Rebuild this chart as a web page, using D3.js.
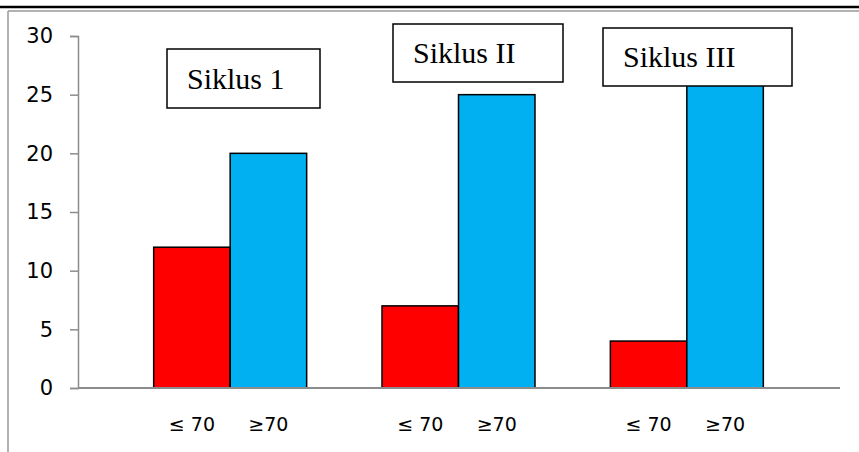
<!DOCTYPE html>
<html><head><meta charset="utf-8">
<script src="https://cdn.jsdelivr.net/npm/d3@7"></script>
<style>html,body{margin:0;padding:0;background:#fff;}svg{display:block;}</style>
</head><body>
<svg id="c" width="859" height="452"></svg>
<script>
const groups = ["Siklus 1", "Siklus II", "Siklus III"];
const subLabels = ["≤ 70", "≥70"];
const lowValues = [12, 7, 4];
const highValues = [20, 25, 28];
const yTicks = [0, 5, 10, 15, 20, 25, 30];

const svg = d3.select("#c");
const y = d3.scaleLinear().domain([0, 30]).range([388, 36]);
const x = d3.scaleBand().domain(groups).range([116, 801]).paddingInner(0.33).paddingOuter(0.165);
const xs = d3.scaleBand().domain(subLabels).range([0, x.bandwidth()]);

// frame lines
svg.append("line").attr("x1",0).attr("x2",859).attr("y1",7).attr("y2",7).attr("stroke","#000").attr("stroke-width",2.5);
svg.append("line").attr("x1",8).attr("x2",859).attr("y1",11).attr("y2",11).attr("stroke","#999").attr("stroke-width",1.5);
svg.append("line").attr("x1",8).attr("x2",8).attr("y1",11).attr("y2",452).attr("stroke","#999").attr("stroke-width",1.5);

// bars
const data = groups.map((g,i)=>({g, vals:[{k:subLabels[0],v:lowValues[i],c:"#ff0000"},{k:subLabels[1],v:highValues[i],c:"#00b0f0"}]}));
const gg = svg.selectAll("g.grp").data(data).join("g").attr("class","grp").attr("transform",d=>`translate(${x(d.g)},0)`);
gg.selectAll("rect").data(d=>d.vals).join("rect")
  .attr("x",d=>xs(d.k)).attr("width",xs.bandwidth())
  .attr("y",d=>y(d.v)).attr("height",d=>y(0)-y(d.v))
  .attr("fill",d=>d.c).attr("stroke","#000").attr("stroke-width",1.5);
gg.selectAll("text.xl").data(d=>d.vals).join("text").attr("class","xl")
  .attr("x",d=>xs(d.k)+xs.bandwidth()/2).attr("y",431)
  .attr("text-anchor","middle").attr("font-family","'DejaVu Sans', sans-serif").attr("font-size",19).attr("fill","#000")
  .text(d=>d.k);

// y axis
const yAxis = d3.axisLeft(y).tickValues(yTicks).tickSize(8).tickPadding(17);
const ya = svg.append("g").attr("transform","translate(78,0)").call(yAxis);
ya.attr("font-size",21).attr("font-family","'DejaVu Sans', sans-serif");
ya.select(".domain").attr("stroke","#8c8c8c").attr("stroke-width",1.5);
ya.selectAll(".tick line").attr("stroke","#8c8c8c").attr("stroke-width",1.5);
ya.selectAll(".tick text").attr("font-family","'DejaVu Sans', sans-serif").attr("font-size",21).attr("fill","#000");

// x axis line
svg.append("line").attr("x1",78).attr("x2",840).attr("y1",y(0)).attr("y2",y(0)).attr("stroke","#8c8c8c").attr("stroke-width",2);

// text boxes
const boxes = [
  {t:groups[0], x:167, y:49, w:153, h:59, tx:187, ty:89},
  {t:groups[1], x:393, y:24, w:170, h:58, tx:413, ty:63},
  {t:groups[2], x:603, y:28, w:189, h:58, tx:623, ty:67}
];
const bg = svg.selectAll("g.box").data(boxes).join("g").attr("class","box");
bg.append("rect").attr("x",d=>d.x).attr("y",d=>d.y).attr("width",d=>d.w).attr("height",d=>d.h)
  .attr("fill","#fff").attr("stroke","#000").attr("stroke-width",1.5);
bg.append("text").attr("x",d=>d.tx).attr("y",d=>d.ty).attr("font-family","'Liberation Serif', 'Times New Roman', serif")
  .attr("font-size",30).attr("fill","#000").text(d=>d.t);
</script>
</body></html>
